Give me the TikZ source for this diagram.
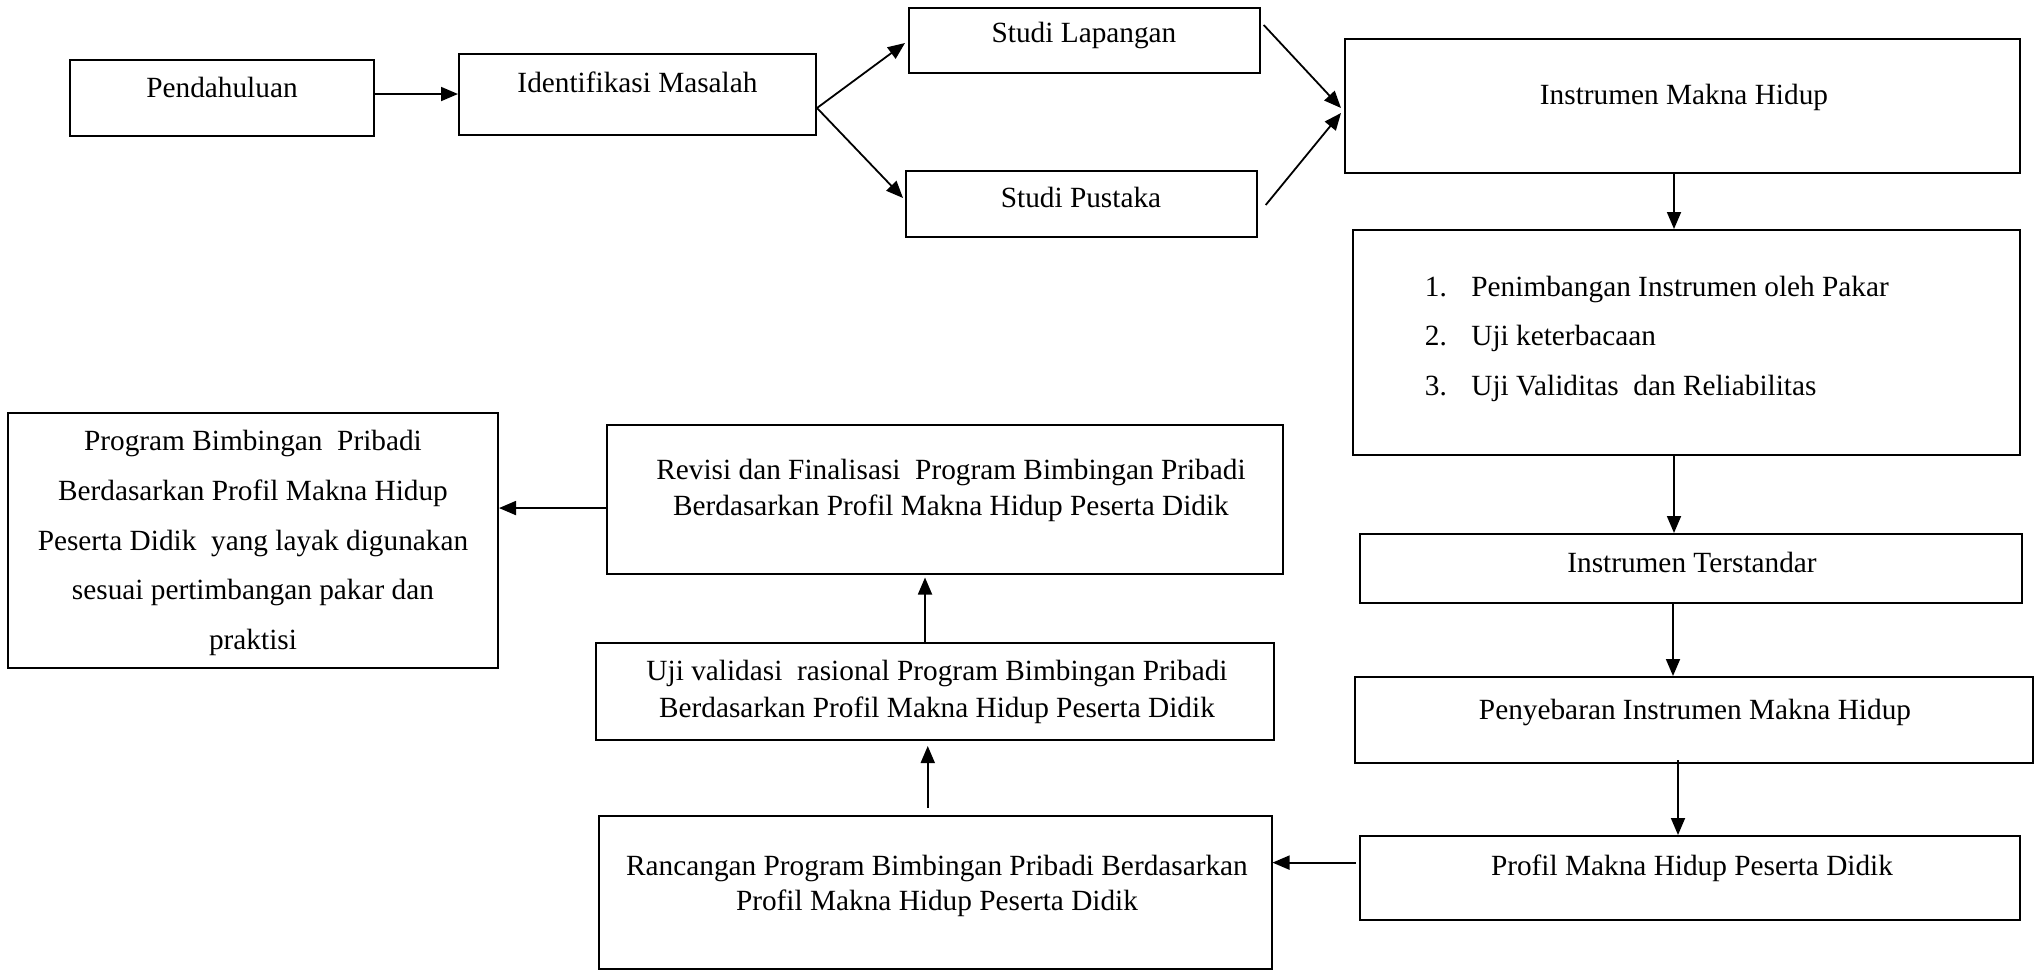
\documentclass[tikz,border=0pt]{standalone}
\usepackage{fontspec}
\setmainfont{Liberation Serif}
\usetikzlibrary{arrows.meta}
\begin{document}
\begin{tikzpicture}[x=0.5pt,y=-0.5pt,
  box/.style={draw,line width=1pt,inner sep=0pt},
  txt/.style={inner sep=0pt,font=\fontsize{14.65}{16.5}\selectfont,align=center},
  arr/.style={line width=0.9pt,-{Triangle[length=8.5pt,width=7pt]}}]
\useasboundingbox (0,0) rectangle (2035,971);
% boxes
\node[box,minimum width=152pt,minimum height=38pt] (pend) at (222,98) {};
\node[box,minimum width=178.5pt,minimum height=40.5pt] (iden) at (637.5,94.5) {};
\node[box,minimum width=175.5pt,minimum height=32.5pt] (lap) at (1084.5,40.5) {};
\node[box,minimum width=175.5pt,minimum height=33pt] (pus) at (1081.5,204) {};
\node[box,minimum width=337.5pt,minimum height=67pt] (imh) at (1682.5,106) {};
\node[box,minimum width=333.5pt,minimum height=112.5pt] (list) at (1686.5,342.5) {};
\node[box,minimum width=331pt,minimum height=34.5pt] (ist) at (1691,568.5) {};
\node[box,minimum width=339pt,minimum height=43pt] (peny) at (1694,720) {};
\node[box,minimum width=330pt,minimum height=42pt] (prof) at (1690,878) {};
\node[box,minimum width=336.25pt,minimum height=76.75pt] (ranc) at (935.25,892.25) {};
\node[box,minimum width=339pt,minimum height=48.25pt] (uji) at (935,691.25) {};
\node[box,minimum width=338pt,minimum height=74.25pt] (rev) at (944.5,499.25) {};
\node[box,minimum width=245pt,minimum height=127.5pt] (prog) at (253,540.5) {};
% texts
\node[txt] (tpend) at (222,87) {Pendahuluan};
\node[txt] (tiden) at (637.5,82) {Identifikasi Masalah};
\node[txt] (tlap) at (1084,35) {Studi Lapangan};
\node[txt] (tpus) at (1081,197) {Studi Pustaka};
\node[txt] (timh) at (1684,97) {Instrumen Makna Hidup};
\node[txt,anchor=west] (tl1) at (1424.5,289) {\makebox[23.25pt][l]{1.}Penimbangan Instrumen oleh Pakar};
\node[txt,anchor=west] (tl2) at (1424.5,338) {\makebox[23.25pt][l]{2.}Uji keterbacaan};
\node[txt,anchor=west] (tl3) at (1424.5,388) {\makebox[23.25pt][l]{3.}Uji Validitas\ \ dan Reliabilitas};
\node[txt] (tist) at (1692,562) {Instrumen Terstandar};
\node[txt] (tpeny) at (1695,712) {Penyebaran Instrumen Makna Hidup};
\node[txt] (tprof) at (1692,868) {Profil Makna Hidup Peserta Didik};
\node[txt,font=\fontsize{14.65}{17.5}\selectfont] (tranc) at (937,885.5) {Rancangan Program Bimbingan Pribadi Berdasarkan\\Profil Makna Hidup Peserta Didik};
\node[txt,font=\fontsize{14.65}{18.5}\selectfont] (tuji) at (937,692) {Uji validasi\ \ rasional Program Bimbingan Pribadi\\Berdasarkan Profil Makna Hidup Peserta Didik};
\node[txt,font=\fontsize{14.65}{18}\selectfont] (trev) at (951,490) {Revisi dan Finalisasi\ \ Program Bimbingan Pribadi\\Berdasarkan Profil Makna Hidup Peserta Didik};
\node[txt,font=\fontsize{14.65}{24.9}\selectfont] (tprog) at (253,543) {Program Bimbingan\ \ Pribadi\\Berdasarkan Profil Makna Hidup\\Peserta Didik\ \ yang layak digunakan\\sesuai pertimbangan pakar dan\\praktisi};
% connectors
\draw[arr] ([yshift=2pt]pend.east) -- ([yshift=2pt]pend.east -| iden.west);
\coordinate (split) at ([yshift=-6.75pt]iden.east);
\draw[arr] (split) -- ([yshift=-1.25pt,xshift=-1.5pt]lap.west);
\draw[arr] (split) -- ([yshift=3pt,xshift=-1pt]pus.west);
\draw[arr] ([xshift=1.35pt,yshift=7.75pt]lap.east) -- ([xshift=-1.5pt,yshift=-1pt]imh.west);
\draw[arr] ([xshift=3.85pt,yshift=-0.5pt]pus.east) -- ([xshift=-1.5pt,yshift=-3.5pt]imh.west);
\draw[arr] ([xshift=-4.25pt]imh.south) -- ([xshift=-4.25pt]imh.south |- list.north);
\draw[arr] ([xshift=-6.25pt]list.south) -- ([xshift=-6.25pt]list.south |- ist.north);
\draw[arr] ([xshift=-9pt]ist.south) -- ([xshift=-9pt]ist.south |- peny.north);
\draw[arr] ([xshift=-8pt,yshift=2pt]peny.south) -- ([xshift=-8pt]peny.south |- prof.north);
\draw[arr] ([xshift=-1.65pt,yshift=7.7pt]prof.west) -- ([yshift=7.7pt]prof.west -| ranc.east);
\draw[arr] ([xshift=-3.75pt,yshift=3.25pt]ranc.north) -- ([xshift=-3.75pt,yshift=-2.75pt]ranc.north |- uji.south);
\draw[arr] ([xshift=-5pt]uji.north) -- ([xshift=-5pt,yshift=-1.5pt]uji.north |- rev.south);
\draw[arr] ([yshift=-4.4pt]rev.west) -- ([yshift=-4.4pt]rev.west -| prog.east);
\end{tikzpicture}
\end{document}
